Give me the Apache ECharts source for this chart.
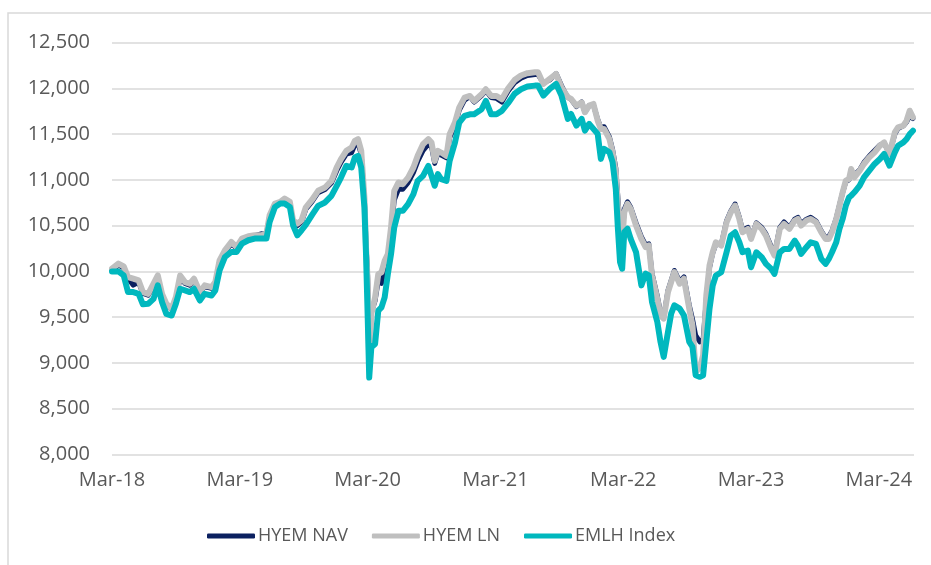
<!DOCTYPE html>
<html>
<head>
<meta charset="utf-8">
<script src="https://cdn.jsdelivr.net/npm/echarts@6/dist/echarts.min.js"></script>
<style>
    html, body { margin: 0; padding: 0; background: #fff; }
    #chart { width: 931px; height: 565px; }
</style>
</head>
<body>
<div id="chart"></div>
<script>
    // months after Mar-18
    var months = [
        0, 0.6, 1.1, 1.5, 2.0, 2.5, 2.9, 3.4, 3.9, 4.3, 4.7, 5.1, 5.6, 6.0, 6.4, 6.85, 7.3, 7.7, 8.25, 8.7,
        9.35, 9.7, 10.1, 10.6, 11.2, 11.7, 12.2, 12.8, 13.4, 14.0, 14.5, 14.8, 15.3, 15.8, 16.2, 16.7, 17.0, 17.4, 17.8,
        18.2, 18.8, 19.35, 20.0, 20.6, 21.1, 21.5, 22.0, 22.5, 22.8, 23.1, 23.4, 23.7, 23.85, 24.0, 24.15, 24.35, 24.7,
        25.0, 25.3, 25.6, 25.9, 26.2, 26.5, 26.9, 27.3, 27.8, 28.3, 28.7, 29.2, 29.7, 30.0, 30.3, 30.6, 30.9, 31.4,
        31.7, 32.2, 32.6, 33.1, 33.6, 34.0, 34.7, 35.1, 35.6, 36.1, 36.6,
        37.2, 37.8, 38.4, 39.0, 39.7, 40.0, 40.5, 41.1, 41.7, 42.2, 42.5, 42.8, 43.1, 43.6, 44.1, 44.4, 44.8, 45.2,
        45.6, 45.9, 46.2, 46.7, 47.0, 47.3, 47.5, 47.7, 47.9, 48.1, 48.4, 48.7, 49.2, 49.7, 50.1, 50.4, 50.7, 51.2,
        51.5, 51.8, 52.2, 52.5, 52.8, 53.3, 53.7, 54.2, 54.5, 54.8, 55.2, 55.5, 55.8, 56.1, 56.4, 56.7, 57.2, 57.7,
        58.1, 58.5, 58.9, 59.2, 59.7, 60.0, 60.5, 61.0, 61.4, 61.9, 62.2, 62.7, 63.1, 63.6, 64.1, 64.4, 64.7, 65.2,
        65.6, 66.1, 66.6, 67.0, 67.3, 67.6, 68.0, 68.3, 68.6, 68.9, 69.2, 69.4, 69.7, 70.2, 70.6, 71.1, 71.6, 72.1,
        72.5, 73.0, 73.5, 73.8, 74.3, 74.6, 74.9, 75.2
    ];

    var hyemNav = [
        10010, 10070, 10040, 9925, 9850, 9880, 9760, 9740, 9840, 9930, 9745, 9630, 9585, 9705, 9930, 9870, 9850, 9905, 9760, 9835,
        9815, 9870, 10100, 10215, 10300, 10255, 10345, 10375, 10390, 10410, 10405, 10600, 10730, 10750, 10780, 10745, 10545, 10500, 10540,
        10680, 10765, 10860, 10895, 10965, 11100, 11190, 11280, 11298, 11380, 11400, 11280, 10780, 10300, 9950, 9150, 9550, 9680,
        9900, 9870, 10040, 10150, 10420, 10780, 10900, 10898, 10970, 11080, 11200, 11320, 11390, 11360, 11180, 11290, 11270, 11240,
        11460, 11590, 11760, 11870, 11910, 11850, 11920, 11975, 11900, 11890, 11850,
        11970, 12060, 12110, 12140, 12150, 12150, 12060, 12090, 12160, 12030, 11960, 11900, 11880, 11800, 11850, 11740, 11810, 11820,
        11660, 11570, 11580, 11470, 11330, 11130, 10800, 10500, 10380, 10680, 10760, 10700, 10530, 10380, 10290, 10300, 9980, 9730,
        9550, 9500, 9790, 9900, 10010, 9890, 9940, 9630, 9480, 9300, 9230, 9250, 9700, 10040, 10200, 10300, 10290, 10550,
        10660, 10736, 10590, 10450, 10480, 10370, 10530, 10480, 10410, 10270, 10190, 10480, 10540, 10480, 10570, 10590, 10520, 10570,
        10590, 10550, 10440, 10370, 10380, 10440, 10580, 10720, 10860, 10980, 11000, 11080, 11050, 11110, 11190, 11260, 11320, 11380,
        11400, 11290, 11500, 11560, 11590, 11630, 11700, 11670
    ];

    var hyemLn = [
        10030, 10085, 10055, 9938, 9920, 9901, 9774, 9755, 9865, 9956, 9755, 9646, 9591, 9719, 9956, 9883, 9865, 9920, 9774, 9847,
        9828, 9883, 10120, 10230, 10321, 10266, 10358, 10383, 10394, 10394, 10412, 10613, 10741, 10759, 10796, 10759, 10558, 10522, 10558,
        10700, 10785, 10880, 10916, 10989, 11135, 11225, 11316, 11353, 11425, 11444, 11316, 10807, 10262, 9898, 9000, 9535, 9716,
        9971, 9989, 10116, 10189, 10480, 10880, 10971, 10953, 11025, 11135, 11262, 11389, 11444, 11407, 11207, 11316, 11298, 11262,
        11498, 11625, 11789, 11898, 11916, 11862, 11934, 11989, 11916, 11916, 11880,
        12000, 12090, 12140, 12165, 12175, 12175, 12047, 12102, 12156, 12011, 11956, 11902, 11884, 11811, 11847, 11738, 11811, 11829,
        11647, 11556, 11556, 11447, 11302, 11084, 10720, 10429, 10320, 10647, 10738, 10684, 10502, 10356, 10266, 10284, 9956, 9702,
        9520, 9484, 9775, 9884, 9993, 9866, 9920, 9593, 9411, 8900, 8950, 9084, 9738, 10064, 10209, 10318, 10282, 10536,
        10645, 10718, 10573, 10427, 10464, 10355, 10518, 10464, 10391, 10245, 10173, 10464, 10518, 10464, 10555, 10573, 10500, 10555,
        10573, 10536, 10427, 10355, 10355, 10427, 10573, 10718, 10864, 10991, 11009, 11118, 11027, 11100, 11173, 11245, 11300, 11373,
        11409, 11282, 11518, 11573, 11591, 11645, 11755, 11682
    ];

    var emlhIndex = [
        10000, 10000, 9956, 9774, 9774, 9755, 9640, 9646, 9700, 9847, 9664, 9536, 9518, 9646, 9810, 9792, 9774, 9810, 9682, 9755,
        9737, 9792, 10011, 10157, 10212, 10212, 10303, 10340, 10358, 10358, 10358, 10540, 10704, 10741, 10741, 10704, 10504, 10394, 10449,
        10510, 10620, 10716, 10753, 10825, 10935, 11025, 11153, 11135, 11244, 11262, 11135, 10698, 10189, 9535, 8840, 9171, 9207,
        9571, 9607, 9716, 9971, 10189, 10480, 10662, 10662, 10735, 10844, 10989, 11044, 11153, 11044, 10935, 11062, 11007, 10989,
        11207, 11407, 11625, 11698, 11716, 11716, 11771, 11862, 11716, 11716, 11753,
        11840, 11940, 11990, 12020, 12029, 12029, 11920, 11993, 12047, 11920, 11793, 11665, 11720, 11593, 11665, 11538, 11611, 11556,
        11502, 11229, 11338, 11302, 11193, 10902, 10466, 10102, 10029, 10429, 10466, 10356, 10211, 9847, 9975, 9956, 9666, 9447,
        9229, 9066, 9338, 9538, 9629, 9593, 9520, 9229, 9175, 8866, 8848, 8866, 9229, 9591, 9846, 9955, 9991, 10209,
        10391, 10427, 10318, 10209, 10227, 10045, 10209, 10155, 10082, 10027, 9973, 10209, 10245, 10245, 10336, 10282, 10191, 10264,
        10318, 10300, 10136, 10082, 10136, 10209, 10318, 10464, 10573, 10718, 10809, 10827, 10864, 10936, 11027, 11100, 11173, 11227,
        11282, 11155, 11300, 11373, 11409, 11445, 11500, 11536
    ];

    var seriesNames = ['HYEM NAV', 'HYEM LN', 'EMLH Index'];
    var seriesColors = ['#0B2060', '#BFBFBF', '#00B8BE'];
    var seriesWidths = [5, 6, 6];
    var yearLabels = ['Mar-18', 'Mar-19', 'Mar-20', 'Mar-21', 'Mar-22', 'Mar-23', 'Mar-24'];

    function pairs(vals) {
        var out = [];
        for (var i = 0; i < months.length; i++) {
            out.push([months[i], vals[i]]);
        }
        return out;
    }

    var allValues = [hyemNav, hyemLn, emlhIndex];
    var series = [];
    for (var s = 0; s < 3; s++) {
        series.push({
            name: seriesNames[s],
            type: 'line',
            data: pairs(allValues[s]),
            showSymbol: false,
            smooth: false,
            color: seriesColors[s],
            lineStyle: { width: seriesWidths[s], cap: 'round', join: 'round', color: seriesColors[s] }
        });
    }

    var chart = echarts.init(document.getElementById('chart'));
    chart.setOption({
        animation: false,
        backgroundColor: '#fff',
        graphic: [{
            type: 'rect',
            shape: { x: 8, y: 13, width: 940, height: 580 },
            style: { fill: 'none', stroke: '#D9D9D9', lineWidth: 1.5 },
            silent: true
        }],
        grid: { left: 112, right: 17, top: 42.5, bottom: 110.5 },
        legend: {
            left: 207,
            top: 527,
            padding: 0,
            icon: 'roundRect',
            itemWidth: 48,
            itemHeight: 5,
            itemGap: 24,
            data: seriesNames,
            textStyle: { color: '#595959', fontSize: 18, fontFamily: 'Open Sans', padding: [0, 0, 0, -2] }
        },
        xAxis: {
            type: 'value',
            min: 0,
            max: 75.3,
            interval: 12,
            axisLine: { show: false },
            axisTick: { show: false },
            splitLine: { show: false },
            axisLabel: {
                color: '#595959',
                fontSize: 20,
                fontFamily: 'Open Sans',
                margin: 16,
                showMaxLabel: false,
                formatter: function (v) { return yearLabels[Math.round(v / 12)] || ''; }
            }
        },
        yAxis: {
            type: 'value',
            min: 8000,
            max: 12500,
            interval: 500,
            axisLine: { show: false },
            axisTick: { show: false },
            splitLine: { lineStyle: { color: '#D9D9D9', width: 1.5 } },
            axisLabel: {
                color: '#595959',
                fontSize: 20,
                fontFamily: 'Open Sans',
                margin: 22,
                formatter: function (v) { return v.toLocaleString('en-US'); }
            }
        },
        series: series
    });
</script>
</body>
</html>
